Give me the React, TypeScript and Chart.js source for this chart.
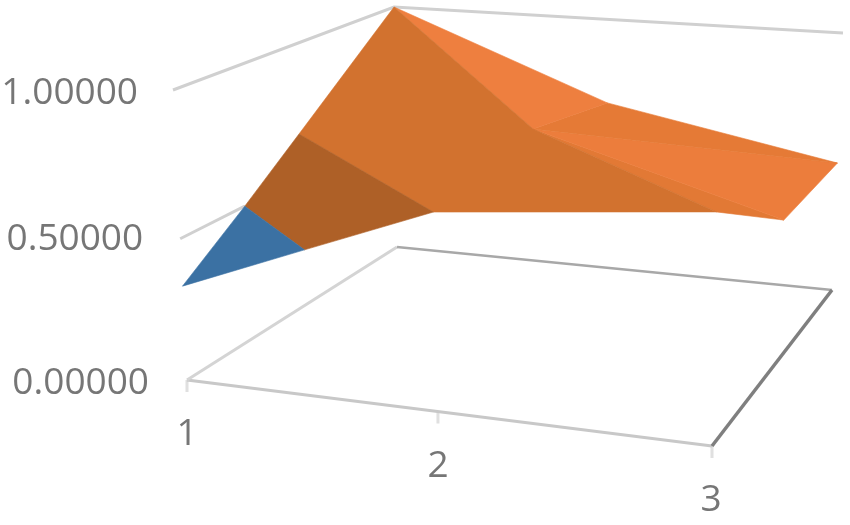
import React, { useEffect, useRef } from "react";
import { Chart, registerables } from "chart.js";

Chart.register(...registerables);

// Axis labels
const categories = ["1", "2", "3"];
const valueTicks = [0, 0.5, 1];

// Surface mesh: column (1..3), depth (0 front .. 1 back), value
const vertexNames = ["A", "B", "C", "D", "E", "F", "G", "H", "I", "J", "K"];
const vertexCol = [1, 1, 1.49, 1, 1, 1.73, 2, 2, 3, 3, 2.73];
const vertexDepth = [0, 0.3, 0, 0.558, 1, 0.366, 0.554, 1, 1, 0.53, 0.561];
const vertexValue = [0.335, 0.5, 0.506, 0.667, 1.0, 0.513, 0.758, 0.675, 0.507, 0.521, 0.513];

// Surface faces, as vertex names
const faceVertices = [
  ["A", "B", "C"],
  ["B", "D", "F", "C"],
  ["D", "E", "G", "K", "F"],
  ["E", "H", "G"],
  ["G", "H", "I"],
  ["G", "I", "J"],
  ["G", "J", "K"],
];
const faceColors = ["#3b71a3", "#ae6027", "#d2722f", "#ee7f3f", "#e57a36", "#ec7d3c", "#e27935"];

// 3D box corners as seen in the picture (pixel space of the hidden scales)
const FLOOR = { f0: [187, 380], f1: [712, 446], b0: [397, 247], b1: [832, 290] };
const TOP = { f0: [173, 90], f1: [734, 136], b0: [394, 7], b1: [843, 33] };

const bilinear = (c: any, u: number, v: number, i: number) =>
  (1 - v) * ((1 - u) * c.f0[i] + u * c.f1[i]) + v * ((1 - u) * c.b0[i] + u * c.b1[i]);

function project(col: number, depth: number, value: number) {
  const t = (col - 1) / 2;
  const u = t / (1 + 0.092 * (1 - t));
  const g = value / (1 + 0.053 * (1 - value));
  const fx = bilinear(FLOOR, u, depth, 0);
  const fy = bilinear(FLOOR, u, depth, 1);
  const tx = bilinear(TOP, u, depth, 0);
  const ty = bilinear(TOP, u, depth, 1);
  return { x: fx + (tx - fx) * g, y: fy + (ty - fy) * g };
}

const vertexPoint = (name: string) => {
  const i = vertexNames.indexOf(name);
  return project(vertexCol[i], vertexDepth[i], vertexValue[i]);
};

const lineDataset = (pts: number[][], color: string, width: number) => ({
  data: pts.map((p) => project(p[0], p[1], p[2])),
  showLine: true,
  borderColor: color,
  borderWidth: width,
  pointRadius: 0,
  fill: false,
  tension: 0,
});

const axisLabels = {
  id: "axisLabels",
  afterDraw(chart: any) {
    const { ctx, scales } = chart;
    ctx.save();
    ctx.font = "37px 'Open Sans'";
    ctx.fillStyle = "#767676";
    ctx.textBaseline = "alphabetic";
    ctx.textAlign = "right";
    const baseline = [14, 11, 14];
    const dx = [-38, -37, -35];
    valueTicks.forEach((v, i) => {
      const p = project(1, 0, v);
      ctx.fillText(v.toFixed(5), scales.x.getPixelForValue(p.x) + dx[i], scales.y.getPixelForValue(p.y) + baseline[i]);
    });
    ctx.textAlign = "center";
    categories.forEach((c, i) => {
      const p = project(i + 1, 0, 0);
      ctx.fillText(c, scales.x.getPixelForValue(p.x) + (i === 2 ? -1 : 0), scales.y.getPixelForValue(p.y) + 65);
    });
    ctx.restore();
  },
};

export default function App() {
  const ref = useRef<HTMLCanvasElement | null>(null);
  useEffect(() => {
    const surface = faceVertices.map((names, i) => {
      const pts = names.map(vertexPoint);
      return {
        data: [...pts, pts[0]],
        showLine: true,
        borderColor: faceColors[i],
        backgroundColor: faceColors[i],
        borderWidth: 0.6,
        pointRadius: 0,
        fill: "shape",
        tension: 0,
      };
    });
    const ticks = categories.map((_, i) => {
      const p = project(i + 1, 0, 0);
      return {
        data: [p, { x: p.x, y: p.y + 12 }],
        showLine: true,
        borderColor: "#e0e0e0",
        borderWidth: 3,
        pointRadius: 0,
        fill: false,
      };
    });
    const chart = new Chart(ref.current as HTMLCanvasElement, {
      type: "scatter",
      data: {
        datasets: [
          ...surface,
          lineDataset([[1, 0, 1], [1, 1, 1], [3, 1, 1]], "#d0d0d0", 3),
          lineDataset([[1, 0, 0.5], [1, 0.3, 0.5]], "#d0d0d0", 3),
          lineDataset([[3, 0, 0], [3, 1, 0]], "#7f7f7f", 3.5),
          lineDataset([[1, 1, 0], [3, 1, 0]], "#a8a8a8", 2.6),
          lineDataset([[1, 0, 0], [1, 1, 0]], "#d4d4d4", 3),
          lineDataset([[1, 0, 0], [3, 0, 0]], "#c8c8c8", 3),
          ...ticks,
        ],
      } as any,
      options: {
        animation: false,
        responsive: false,
        layout: { padding: 0 },
        plugins: { legend: { display: false }, tooltip: { enabled: false } },
        scales: {
          x: { type: "linear", display: false, min: 0, max: 850 },
          y: { type: "linear", display: false, min: 0, max: 525, reverse: true },
        },
      } as any,
      plugins: [axisLabels],
    });
    return () => chart.destroy();
  }, []);
  return (
    <div style={{ position: "fixed", left: 0, top: 0, width: 850, height: 525, background: "#fff" }}>
      <canvas ref={ref} width={850} height={525} style={{ display: "block" }} />
    </div>
  );
}
